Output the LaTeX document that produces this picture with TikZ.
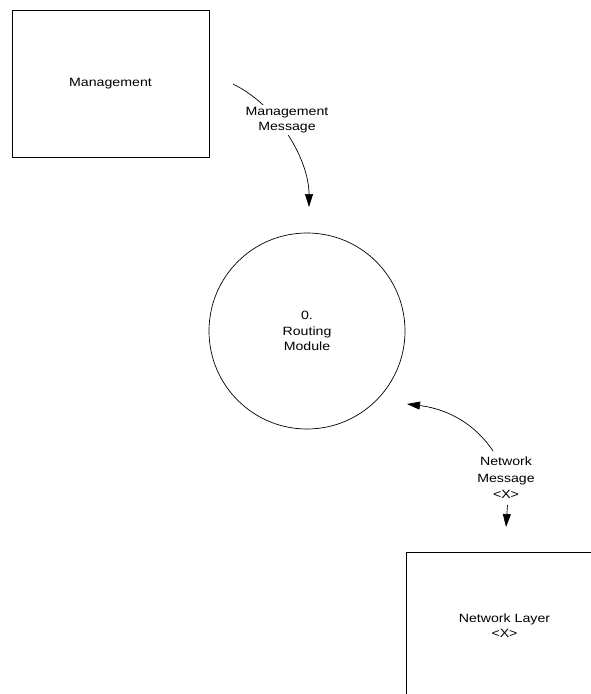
\documentclass[tikz,border=0pt]{standalone}
\usepackage{fontspec}
\setmainfont{Liberation Sans}[FakeStretch=1.18]
\usetikzlibrary{arrows.meta}

\begin{document}
\begin{tikzpicture}[x=1pt, y=-1pt,
  lbl/.style={align=center, font=\fontsize{12}{15.5}\selectfont, inner sep=0pt},
  ent/.style={draw, line width=0.8pt, minimum width=197pt, minimum height=147pt,
              inner sep=0pt, align=center, font=\fontsize{12}{15.5}\selectfont},
  proc/.style={draw, circle, line width=0.7pt, minimum size=196pt, inner sep=0pt,
               align=center, font=\fontsize{12}{15.5}\selectfont},
  flow/.style={line width=0.7pt, -{Triangle[length=13pt,width=8pt]}}]
\useasboundingbox (0,0) rectangle (591,694);
\clip (0,0) rectangle (591,694);

% external entities and the process
\node[ent]  (mgmt)    at (110.5,84)  {Management};
\node[proc] (routing) at (307,331)   {0.\\Routing\\Module};
\node[ent]  (netlayer) at (504.5,625.5) {Network Layer\\<X>};

% management flow into the routing module
\coordinate (ma) at (233,84);
\coordinate (mb) at (309,207);
\draw[flow] (ma) .. controls (278,106) and (309,160) .. (mb);
\node[lbl, fill=white, inner sep=2pt] (mgmtmsg) at (287,120) {Management\\Message};

% network flow, in both directions
\coordinate (na) at (493,451);
\coordinate (nb) at (407,404);
\draw[flow] (na) .. controls (475,424) and (448,409) .. (nb);
\node[lbl, font=\fontsize{12}{16.5}\selectfont] (netmsg) at (506,478) {Network\\Message\\<X>};
\coordinate (nc) at (507.5,505);
\coordinate (nd) at (506,527);
\draw[flow] (nc) -- (nd);
\end{tikzpicture}
\end{document}
